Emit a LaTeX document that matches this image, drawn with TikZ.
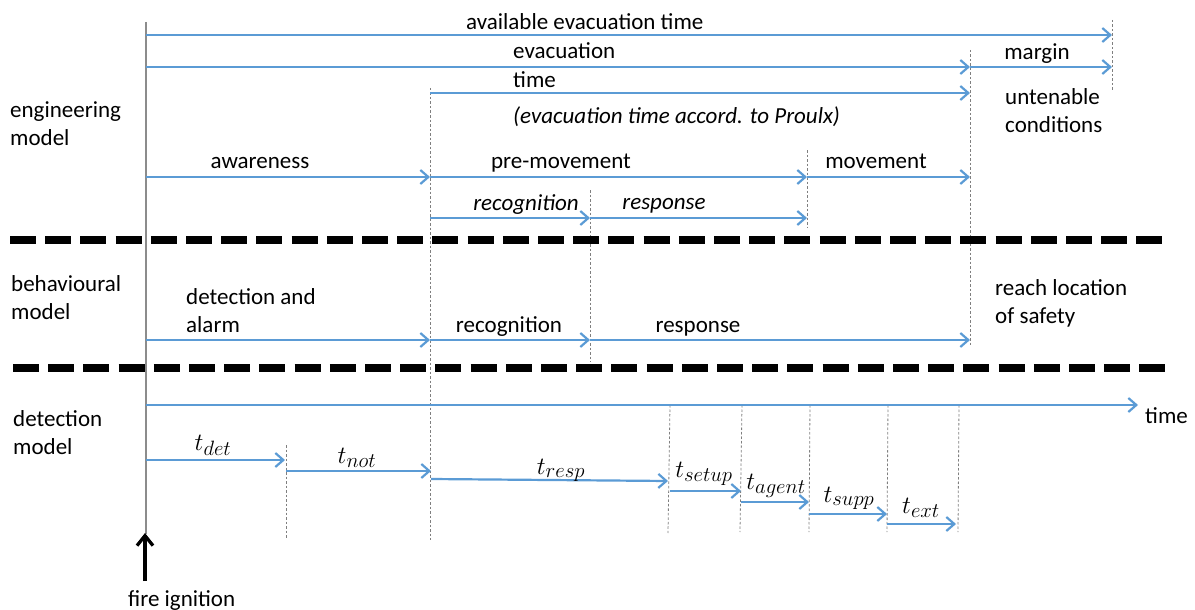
\documentclass[tikz,border=0pt]{standalone}
\usepackage{fontspec}
\setmainfont{Carlito}
\usetikzlibrary{arrows.meta}
\definecolor{arrblue}{HTML}{5B9BD5}
\definecolor{guide}{HTML}{7F7F7F}
\definecolor{axisgray}{HTML}{8C8C8C}
\begin{document}
\begin{tikzpicture}[x=1pt,y=-1pt,
  font=\fontsize{23}{28}\selectfont,
  arr/.style={draw=arrblue, line width=2.2pt, -{Straight Barb[length=8pt,width=14pt]}},
  guideline/.style={draw=guide, line width=0.8pt, dash pattern=on 2.5pt off 2pt},
  sepline/.style={draw=black, line width=7.5pt, dash pattern=on 26pt off 9.2pt},
  lb/.style={anchor=base, inner sep=0pt},
  lbw/.style={anchor=base west, inner sep=0pt},
  ml/.style={anchor=north west, inner sep=0pt, align=left},
  mathlbl/.style={anchor=base, inner sep=0pt, font=\fontsize{29}{34}\selectfont},
  firearrow/.style={draw=black, line width=3.3pt, -{Straight Barb[length=10pt,width=16pt]}},
]
\useasboundingbox (0,0) rectangle (1195,610);

% ---------- coordinates ----------
\coordinate (o0) at (146,22);
\coordinate (o1) at (146,534);
\coordinate (f0) at (145,581);
\coordinate (f1) at (145,533);
\coordinate (g1a) at (1112,20);  \coordinate (g1b) at (1112,90);
\coordinate (g2a) at (970,50);   \coordinate (g2b) at (970,345);
\coordinate (g3a) at (430,88);   \coordinate (g3b) at (430,540);
\coordinate (g4a) at (807,150);  \coordinate (g4b) at (807,228);
\coordinate (g5a) at (590,190);  \coordinate (g5b) at (590,362);
\coordinate (g6a) at (286,445);  \coordinate (g6b) at (286,538);
\coordinate (g7a) at (670,405);  \coordinate (g7b) at (668,533);
\coordinate (g8a) at (742,405);  \coordinate (g8b) at (740,532);
\coordinate (g9a) at (810,405);  \coordinate (g9b) at (809,532);
\coordinate (g10a) at (888,405); \coordinate (g10b) at (887,532);
\coordinate (g11a) at (959,405); \coordinate (g11b) at (958,532);
\coordinate (s1a) at (10,240);  \coordinate (s1b) at (1162,240);
\coordinate (s2a) at (13,368);  \coordinate (s2b) at (1165,368);
\coordinate (av0) at (146,35);  \coordinate (av1) at (1112,35);
\coordinate (ev0) at (146,67);  \coordinate (ev1) at (970,67);
\coordinate (mg1) at (1112,67);
\coordinate (tm0) at (430,93);  \coordinate (tm1) at (970,93);
\coordinate (aw0) at (146,177); \coordinate (aw1) at (430,177);
\coordinate (pm1) at (807,177); \coordinate (mv1) at (970,177);
\coordinate (rc0) at (430,218); \coordinate (rc1) at (590,218);
\coordinate (rs1) at (807,218);
\coordinate (da0) at (146,340); \coordinate (da1) at (430,340);
\coordinate (br1) at (590,340); \coordinate (bs1) at (970,340);
\coordinate (ax0) at (146,405); \coordinate (ax1) at (1138,405);
\coordinate (d0) at (146,460);  \coordinate (d1) at (285,460);
\coordinate (n0) at (286,471);  \coordinate (n1) at (431,471);
\coordinate (r0) at (431,479);  \coordinate (r1) at (668,481);
\coordinate (u0) at (670,491);  \coordinate (u1) at (741,491);
\coordinate (a0) at (741,502);  \coordinate (a1) at (809,502);
\coordinate (p0) at (809,514);  \coordinate (p1) at (887,514);
\coordinate (e0) at (887,524);  \coordinate (e1) at (956,524);

% ---------- guide lines ----------
\draw[draw=axisgray, line width=1.3pt] (o0) -- (o1);
\foreach \g in {1,...,11} {\draw[guideline] (g\g a) -- (g\g b);}

% ---------- separators ----------
\draw[sepline] (s1a) -- (s1b);
\draw[sepline] (s2a) -- (s2b);

% ---------- arrows ----------
\draw[arr] (av0) -- (av1);
\draw[arr] (ev0) -- (ev1);
\draw[arr] (ev1) -- (mg1);
\draw[arr] (tm0) -- (tm1);
\draw[arr] (aw0) -- (aw1);
\draw[arr] (aw1) -- (pm1);
\draw[arr] (pm1) -- (mv1);
\draw[arr] (rc0) -- (rc1);
\draw[arr] (rc1) -- (rs1);
\draw[arr] (da0) -- (da1);
\draw[arr] (da1) -- (br1);
\draw[arr] (br1) -- (bs1);
\draw[arr] (ax0) -- (ax1);
\draw[arr] (d0) -- (d1);
\draw[arr] (n0) -- (n1);
\draw[arr] (r0) -- (r1);
\draw[arr] (u0) -- (u1);
\draw[arr] (a0) -- (a1);
\draw[arr] (p0) -- (p1);
\draw[arr] (e0) -- (e1);
\draw[firearrow] (f0) -- (f1);

% ---------- labels ----------
\node[lbw] (tav) at (466,29.5) {available evacuation time};
\node[lbw] (tev) at (513,58.5) {evacuation};
\node[lbw] (ttm) at (513,87.5) {time};
\node[lbw] (tpr) at (513,123.5) {\itshape (evacuation time accord. to Proulx)};
\node[lb] (tmg) at (1037,59.5) {margin};
\node[ml] (tun) at (1005,86.5) {\rule{0pt}{18pt}untenable\\conditions};
\node[ml] (teng) at (10,99.5) {\rule{0pt}{18pt}engineering\\model};
\node[lb] (taw) at (260,168.5) {awareness};
\node[lb] (tpm) at (561,168.5) {pre-movement};
\node[lb] (tmv) at (876,168.5) {movement};
\node[lb] (trc) at (526,210.5) {\itshape recognition};
\node[lb] (trs) at (664,209.5) {\itshape response};

\node[ml] (tbeh) at (11,273.5) {\rule{0pt}{18pt}behavioural\\model};
\node[ml] (tda) at (186,286.5) {\rule{0pt}{18pt}detection and\\alarm};
\node[lb] (tbrc) at (509,332) {recognition};
\node[lb] (tbrs) at (698,332.5) {response};
\node[ml] (tsafe) at (995,277) {\rule{0pt}{18pt}reach location\\of safety};

\node[ml] (tdet) at (13,408.5) {\rule{0pt}{18pt}detection\\model};
\node[lbw] (ttime) at (1145,423.5) {time};
\node[mathlbl] (mdet) at (213,450) {$t_{det}$};
\node[mathlbl] (mnot) at (357,463) {$t_{not}$};
\node[mathlbl] (mresp) at (561,474) {$t_{resp}$};
\node[mathlbl] (msetup) at (704,477) {$t_{setup}$};
\node[mathlbl] (magent) at (776,489) {$t_{agent}$};
\node[mathlbl] (msupp) at (849,502) {$t_{supp}$};
\node[mathlbl] (mext) at (921,513) {$t_{ext}$};

\node[lbw] (tfire) at (128,606) {fire ignition};
\end{tikzpicture}
\end{document}
